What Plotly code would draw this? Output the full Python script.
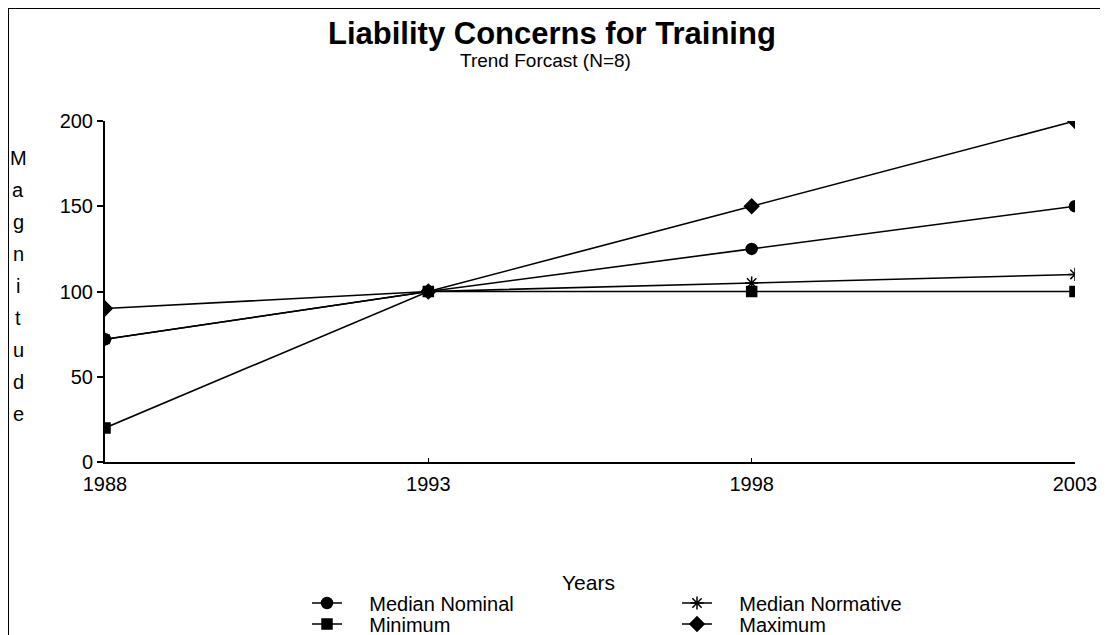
import plotly.graph_objects as go

years = [1988, 1993, 1998, 2003]
median_nominal = [72, 100, 125, 150]
median_normative = [72, 100, 105, 110]
minimum = [20, 100, 100, 100]
maximum = [90, 100, 150, 200]
y_ticks = [0, 50, 100, 150, 200]

FONT = "Liberation Sans, Arial, sans-serif"
PAD = "\u00a0\u00a0\u00a0\u00a0"

# page body has an 8px margin; figure is sized/placed so that it fills the window
OFF = 8
W, H = 1108 - OFF, 635 - OFF
# plot area in window pixels (reference): x 105..1075, y 121..462
L, R, T, B = 105, 1075, 121, 462
PW, PH = R - L, B - T


def px(x):
    return (x - L) / PW


def py(y):
    return (B - y) / PH


fig = go.Figure()
series = [
    ("Median Nominal", median_nominal, "circle", 11, "legend"),
    ("Median Normative", median_normative, "asterisk-open", 11, "legend"),
    ("Minimum", minimum, "square", 10, "legend2"),
    ("Maximum", maximum, "diamond", 11, "legend2"),
]
for name, vals, sym, size, lg in series:
    fig.add_trace(go.Scatter(
        x=years, y=vals, name=PAD + name, mode="lines+markers",
        line=dict(color="black", width=1.6),
        marker=dict(symbol=sym, size=size, color="black",
                    line=dict(color="black", width=1.5)),
        legend=lg,
    ))

# vertical stacked axis title
for i, ch in enumerate("Magnitude"):
    fig.add_annotation(text=ch, xref="paper", yref="paper",
                       x=px(18), y=py(158 + 32 * i),
                       xanchor="center", yanchor="middle", showarrow=False,
                       font=dict(family=FONT, size=20, color="black"))

fig.add_annotation(text="<b>Liability Concerns for Training</b>", xref="paper", yref="paper",
                   x=px(552), y=py(33), xanchor="center", yanchor="middle",
                   showarrow=False, font=dict(family=FONT, size=31, color="black"))
fig.add_annotation(text="Trend Forcast (N=8)", xref="paper", yref="paper",
                   x=px(545), y=py(61), xanchor="center", yanchor="middle",
                   showarrow=False, font=dict(family=FONT, size=19, color="black"))
fig.add_annotation(text="Years", xref="paper", yref="paper",
                   x=px(588), y=py(582), xanchor="center", yanchor="middle",
                   showarrow=False, font=dict(family=FONT, size=21, color="black"))

# border (top and left edges visible in reference)
fig.add_shape(type="rect", xref="paper", yref="paper",
              x0=px(8), x1=px(1200), y0=py(700), y1=py(8),
              line=dict(color="black", width=2))

fig.update_layout(
    width=W, height=H,
    margin=dict(l=L - OFF, r=W - (R - OFF), t=T - OFF, b=H - (B - OFF), autoexpand=False),
    paper_bgcolor="white", plot_bgcolor="white",
    font=dict(family=FONT, size=20, color="black"),
    showlegend=True,
    legend=dict(orientation="h", x=px(307), y=py(603),
                xanchor="left", yanchor="middle", entrywidth=325, entrywidthmode="pixels",
                font=dict(family=FONT, size=20), bgcolor="rgba(0,0,0,0)"),
    legend2=dict(orientation="h", x=px(307), y=py(624),
                 xanchor="left", yanchor="middle", entrywidth=325, entrywidthmode="pixels",
                 font=dict(family=FONT, size=20), bgcolor="rgba(0,0,0,0)"),
    xaxis=dict(range=[1988, 2003], tickvals=years, ticktext=[str(y) for y in years],
               showgrid=False, zeroline=False, showline=True, linecolor="black", linewidth=2,
               ticks="inside", ticklen=4, tickwidth=1, tickcolor="black",
               ticklabelstandoff=3, tickfont=dict(family=FONT, size=20)),
    yaxis=dict(range=[0, 200], tickvals=y_ticks, showgrid=False, zeroline=False,
               showline=True, linecolor="black", linewidth=2, ticks="outside",
               ticklen=6, tickwidth=1.5, tickcolor="black",
               tickfont=dict(family=FONT, size=20)),
)

fig.write_html("out.html")
